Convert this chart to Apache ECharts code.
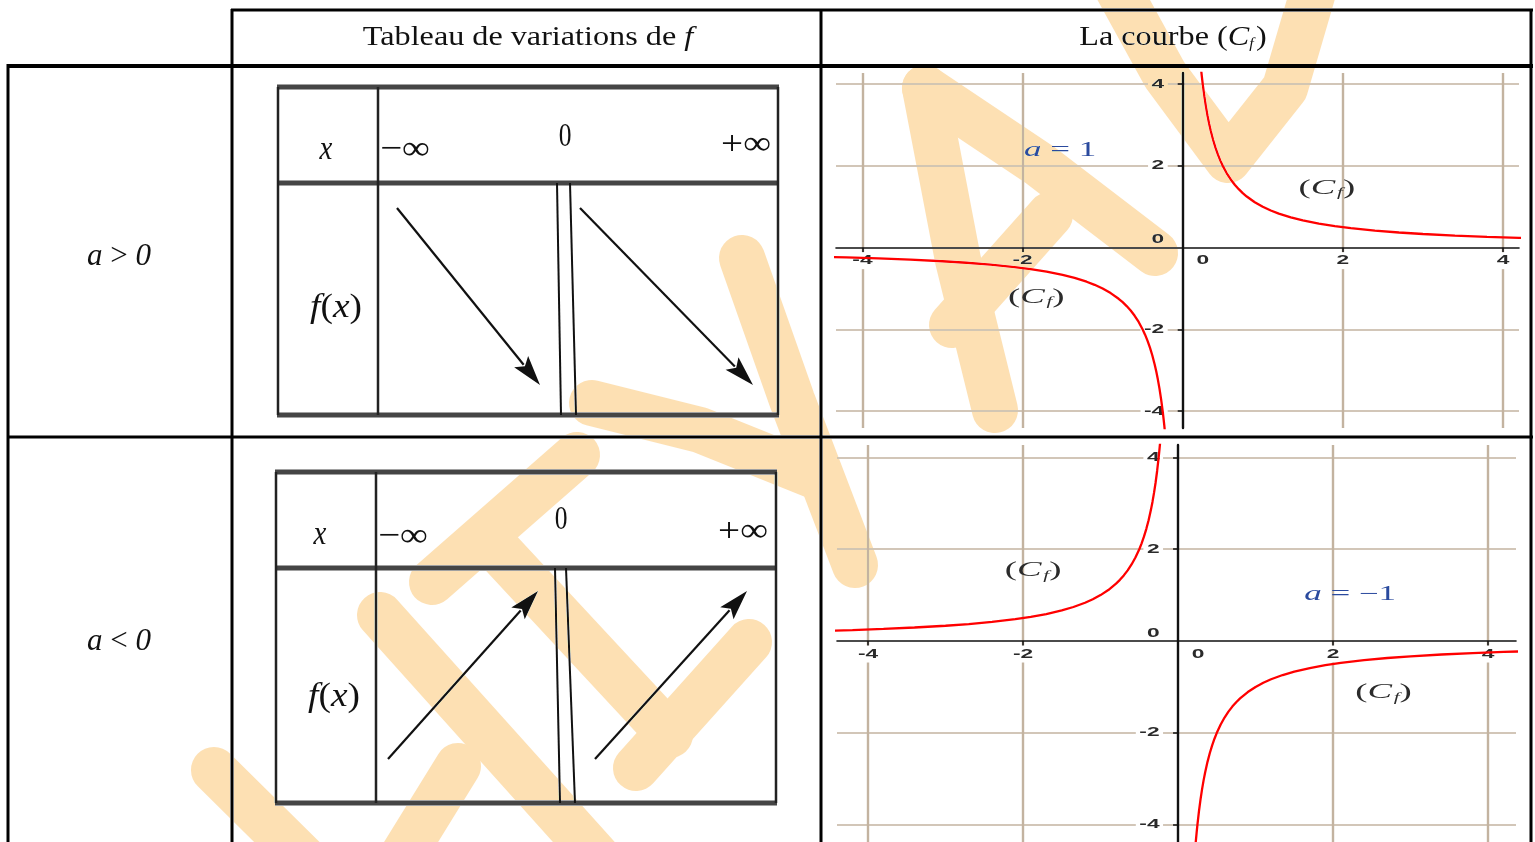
<!DOCTYPE html>
<html>
<head>
<meta charset="utf-8">
<script src="https://cdn.jsdelivr.net/npm/echarts@6/dist/echarts.min.js"></script>
<style>
  html, body { margin: 0; padding: 0; background: #fff; overflow: hidden; }
  #c { width: 1535px; height: 842px; }
</style>
</head>
<body>
<div id="c"></div>
<script>
// ---------- content ----------
const headerTitles = ['Tableau de variations de ', 'La courbe ('];
const caseSigns = ['>', '<'];                 // sign of a, one per row
const aValues = ['1', '−1'];                  // value of a used for each plot
const varXLabels = ['−∞', '0', '+∞'];          // x row of the variation tables
const variations = [['down', 'down'], ['up', 'up']];
const tickLabelValues = [-4, -2, 0, 2, 4];
const gridValues = [-4, -2, 2, 4];

// f(x) = a/x, points read along each branch
const curveA1Left = [
  [-4.5, -0.222], [-4.2, -0.238], [-3.8, -0.263], [-3.4, -0.294], [-3, -0.333], [-2.7, -0.37],
  [-2.4, -0.417], [-2.1, -0.476], [-1.9, -0.526], [-1.7, -0.588], [-1.5, -0.667], [-1.35, -0.741],
  [-1.2, -0.833], [-1.1, -0.909], [-1, -1], [-0.9, -1.111], [-0.8, -1.25], [-0.75, -1.333],
  [-0.7, -1.429], [-0.65, -1.538], [-0.6, -1.667], [-0.55, -1.818], [-0.5, -2], [-0.47, -2.128],
  [-0.44, -2.273], [-0.41, -2.439], [-0.38, -2.632], [-0.35, -2.857], [-0.33, -3.03], [-0.31, -3.226],
  [-0.29, -3.448], [-0.27, -3.704], [-0.25, -4], [-0.24, -4.167], [-0.23, -4.348], [-0.22, -4.545],
  [-0.21, -4.762], [-0.2, -5]
];
const curveA1Right = [
  [0.2, 5], [0.21, 4.762], [0.22, 4.545], [0.23, 4.348], [0.24, 4.167], [0.25, 4], [0.27, 3.704],
  [0.29, 3.448], [0.31, 3.226], [0.33, 3.03], [0.35, 2.857], [0.38, 2.632], [0.41, 2.439],
  [0.44, 2.273], [0.47, 2.128], [0.5, 2], [0.55, 1.818], [0.6, 1.667], [0.65, 1.538], [0.7, 1.429],
  [0.75, 1.333], [0.8, 1.25], [0.9, 1.111], [1, 1], [1.1, 0.909], [1.2, 0.833], [1.35, 0.741],
  [1.5, 0.667], [1.7, 0.588], [1.9, 0.526], [2.1, 0.476], [2.4, 0.417], [2.7, 0.37], [3, 0.333],
  [3.4, 0.294], [3.8, 0.263], [4.2, 0.238], [4.5, 0.222]
];
const curveAm1Left = [
  [-4.5, 0.222], [-4.2, 0.238], [-3.8, 0.263], [-3.4, 0.294], [-3, 0.333], [-2.7, 0.37],
  [-2.4, 0.417], [-2.1, 0.476], [-1.9, 0.526], [-1.7, 0.588], [-1.5, 0.667], [-1.35, 0.741],
  [-1.2, 0.833], [-1.1, 0.909], [-1, 1], [-0.9, 1.111], [-0.8, 1.25], [-0.75, 1.333],
  [-0.7, 1.429], [-0.65, 1.538], [-0.6, 1.667], [-0.55, 1.818], [-0.5, 2], [-0.47, 2.128],
  [-0.44, 2.273], [-0.41, 2.439], [-0.38, 2.632], [-0.35, 2.857], [-0.33, 3.03], [-0.31, 3.226],
  [-0.29, 3.448], [-0.27, 3.704], [-0.25, 4], [-0.24, 4.167], [-0.23, 4.348], [-0.22, 4.545],
  [-0.21, 4.762], [-0.2, 5]
];
const curveAm1Right = [
  [0.2, -5], [0.21, -4.762], [0.22, -4.545], [0.23, -4.348], [0.24, -4.167], [0.25, -4], [0.27, -3.704],
  [0.29, -3.448], [0.31, -3.226], [0.33, -3.03], [0.35, -2.857], [0.38, -2.632], [0.41, -2.439],
  [0.44, -2.273], [0.47, -2.128], [0.5, -2], [0.55, -1.818], [0.6, -1.667], [0.65, -1.538], [0.7, -1.429],
  [0.75, -1.333], [0.8, -1.25], [0.9, -1.111], [1, -1], [1.1, -0.909], [1.2, -0.833], [1.35, -0.741],
  [1.5, -0.667], [1.7, -0.588], [1.9, -0.526], [2.1, -0.476], [2.4, -0.417], [2.7, -0.37], [3, -0.333],
  [3.4, -0.294], [3.8, -0.263], [4.2, -0.238], [4.5, -0.222]
];
// annotation anchors, in plot units: [x, y, kind]
const notesA1 = [[1.8, 1.45, 'cf'], [-1.83, -1.21, 'cf'], [-1.53, 2.38, 'a']];
const notesAm1 = [[-1.87, 1.53, 'cf'], [2.22, 1.0, 'a'], [2.65, -1.13, 'cf']];

// ---------- layout ----------
const SERIF = "'Liberation Serif', 'DejaVu Serif', serif";
const SANS = "'Liberation Sans', 'DejaVu Sans', sans-serif";
const INK = '#000';
const PLOT_STRETCH = 1.75;   // plot lettering is drawn wide

const plotLayout = [
  { left: 836, top: 73, width: 683, height: 355, x: [-4.33, 4.2], y: [-4.41, 4.27] },
  { left: 837, top: 445, width: 679, height: 398, x: [-4.4, 4.36], y: [-4.4, 4.27] }
];

const tableLayout = [
  { l: 278, r: 778, t: 87, sep: 183, b: 415, div: 378,
    bars: [[557, 561], [570, 576]],
    segs: [[397, 540], [580, 753]], yHi: 208, yLo: 385,
    xPos: [326, 150], lo: [380, 150], mid: [565, 137], hi: [771, 145], fPos: [336, 308] },
  { l: 276, r: 776, t: 472, sep: 568, b: 803, div: 376,
    bars: [[555, 560], [566, 575]],
    segs: [[388, 538], [595, 747]], yHi: 591, yLo: 759,
    xPos: [320, 535], lo: [378, 537], mid: [561, 520], hi: [768, 532], fPos: [334, 697] }
];

// hand-drawn stamp strokes laid over the page
const stampStrokes = [
  [[925, 88], [958, 260], [995, 410]],
  [[925, 88], [1040, 165], [1155, 253]],
  [[952, 325], [1050, 215]],
  [[1110, -25], [1165, 75], [1228, 160], [1285, 88], [1318, -25]],
  [[742, 258], [792, 400], [855, 565]],
  [[592, 403], [700, 430], [812, 475]],
  [[577, 455], [432, 582]],
  [[500, 552], [670, 735]],
  [[749, 642], [636, 768]],
  [[380, 615], [600, 860]],
  [[458, 766], [400, 860]],
  [[214, 770], [305, 860]]
];

// ---------- graphic elements ----------
const g = [];
function seg(x1, y1, x2, y2, w, color, z) {
  g.push({ type: 'line', silent: true, z: z || 1,
    shape: { x1, y1, x2, y2 }, style: { stroke: color, lineWidth: w } });
}
function txt(x, y, text, rich, extra, align) {
  g.push(Object.assign({ type: 'text', silent: true, z: 5, x, y,
    style: { text, rich, align: align || 'center', verticalAlign: 'middle', fill: '#111',
      font: '24px ' + SERIF } }, extra || {}));
}

// outer table
seg(231, 10, 1533, 10, 3, INK);
seg(7, 66, 1533, 66, 4, INK);
seg(7, 437, 1533, 437, 3, INK);
seg(8, 64, 8, 850, 3, INK);
seg(232, 9, 232, 850, 3, INK);
seg(821, 9, 821, 850, 3, INK);
seg(1531, 9, 1531, 850, 3, INK);

// headers
const headRich = {
  n: { fontFamily: SERIF, fontSize: 28, fill: '#111' },
  i: { fontFamily: SERIF, fontSize: 28, fontStyle: 'italic', fill: '#111' },
  s: { fontFamily: SERIF, fontSize: 14, fontStyle: 'italic', fill: '#111', padding: [12, 2, 0, 0] }
};
txt(528, 38, '{n|' + headerTitles[0] + '}{i|f}', headRich, { scaleX: 1.15 });
txt(1173, 38, '{n|' + headerTitles[1] + '}{i|C}{s|f}{n|)}', headRich, { scaleX: 1.15 });

// case labels
const caseRich = {
  i: { fontFamily: SERIF, fontSize: 31, fontStyle: 'italic', fill: '#111' },
  n: { fontFamily: SERIF, fontSize: 31, fill: '#111' }
};
caseSigns.forEach((s, k) => {
  txt(119, k === 0 ? 257 : 642, '{i|a}{n| ' + s + ' }{i|0}', caseRich);
});

// variation tables
const vtRich = {
  i: { fontFamily: SERIF, fontSize: 34, fontStyle: 'italic', fill: '#111' },
  n: { fontFamily: SERIF, fontSize: 34, fill: '#111' }
};
function arrow(x1, y1, x2, y2) {
  const dx = x2 - x1, dy = y2 - y1, L = Math.hypot(dx, dy);
  const ux = dx / L, uy = dy / L, head = 30, half = 9;
  const bx = x2 - ux * head, by = y2 - uy * head;
  seg(x1, y1, bx + ux * 4, by + uy * 4, 2.2, '#111', 3);
  g.push({ type: 'polygon', silent: true, z: 3,
    shape: { points: [[x2, y2], [bx - uy * half, by + ux * half], [x2 - ux * head * 0.8, y2 - uy * head * 0.8], [bx + uy * half, by - ux * half]] },
    style: { fill: '#111' } });
}
function band(x1, x2, y) {
  seg(x1, y, x2, y, 5, '#454545', 2);
}
tableLayout.forEach((T, k) => {
  band(T.l - 1, T.r + 1, T.t);
  band(T.l - 1, T.r + 1, T.sep);
  band(T.l - 1, T.r + 1, T.b);
  seg(T.l, T.t, T.l, T.b, 2.5, '#222', 2);
  seg(T.div, T.t, T.div, T.b, 2.5, '#222', 2);
  seg(T.r, T.t, T.r, T.b, 2.5, '#222', 2);
  // double bar at the forbidden value
  seg(T.bars[0][0], T.sep, T.bars[0][1], T.b, 2, '#111', 2);
  seg(T.bars[1][0], T.sep, T.bars[1][1], T.b, 2, '#111', 2);
  // monotonicity arrows
  variations[k].forEach((d, j) => {
    const [xa, xb] = T.segs[j];
    if (d === 'down') arrow(xa, T.yHi, xb, T.yLo);
    else arrow(xa, T.yLo, xb, T.yHi);
  });
  txt(T.xPos[0], T.xPos[1], '{i|x}', vtRich, { scaleX: 0.85 });
  txt(T.lo[0], T.lo[1], '{n|' + varXLabels[0] + '}', vtRich, { scaleX: 1.15 }, 'left');
  txt(T.mid[0], T.mid[1], '{n|' + varXLabels[1] + '}', vtRich, { scaleX: 0.75 });
  txt(T.hi[0], T.hi[1], '{n|' + varXLabels[2] + '}', vtRich, { scaleX: 1.15 }, 'right');
  txt(T.fPos[0], T.fPos[1], '{i|f}{n|(}{i|x}{n|)}', vtRich, { scaleX: 1.1 });
});

// stamp
stampStrokes.forEach(pts => {
  g.push({ type: 'polyline', silent: true, z: 100,
    shape: { points: pts },
    style: { stroke: '#fde0b3', lineWidth: 46, lineCap: 'round', lineJoin: 'round', fill: null, blend: 'darken' } });
});

// ---------- plots ----------
function makeAxis(p, idx, isX) {
  const r = isX ? p.x : p.y;
  return {
    type: 'value', gridIndex: idx, min: r[0], max: r[1],
    axisLine: { show: true, onZero: true, lineStyle: { color: '#111', width: isX ? 1.6 : 2.4 } },
    axisTick: { show: true, customValues: gridValues, length: 5, lineStyle: { color: '#111', width: 1.5 } },
    splitLine: { show: true, customValues: gridValues, lineStyle: { color: '#c3b3a0', width: isX ? 2.4 : 1.6 } },
    axisLabel: { show: false }
  };
}
function curve(data, idx) {
  return { type: 'line', xAxisIndex: idx, yAxisIndex: idx, data, showSymbol: false,
    smooth: false, clip: true, silent: true, z: 3,
    lineStyle: { color: '#ff0000', width: 2.3 } };
}

const option = {
  animation: false,
  backgroundColor: '#fff',
  grid: plotLayout.map(p => ({ left: p.left, top: p.top, width: p.width, height: p.height,
    containLabel: false, outerBoundsMode: 'none', show: false })),
  xAxis: plotLayout.map((p, i) => makeAxis(p, i, true)),
  yAxis: plotLayout.map((p, i) => makeAxis(p, i, false)),
  series: [
    curve(curveA1Left, 0), curve(curveA1Right, 0),
    curve(curveAm1Left, 1), curve(curveAm1Right, 1)
  ],
  graphic: { elements: g }
};

const chart = echarts.init(document.getElementById('c'), null, { renderer: 'canvas', width: 1535, height: 842 });
chart.setOption(option);

// ---------- lettering placed through each plot's own scales ----------
const NOTE_INK = '#2b2b2b', A_INK = '#2a4a9e';
const noteRich = {
  p: { fontFamily: SERIF, fontSize: 21, fill: NOTE_INK },
  c: { fontFamily: SERIF, fontSize: 21, fontStyle: 'italic', fill: NOTE_INK },
  s: { fontFamily: SERIF, fontSize: 12, fontStyle: 'italic', fill: NOTE_INK, padding: [10, 0, 0, 1] },
  ai: { fontFamily: SERIF, fontSize: 20, fontStyle: 'italic', fill: A_INK },
  an: { fontFamily: SERIF, fontSize: 20, fill: A_INK }
};
const plotText = [];
const toPx = (idx, pt) => chart.convertToPixel({ gridIndex: idx }, pt);
[notesA1, notesAm1].forEach((list, idx) => {
  list.forEach(n => {
    const [px, py] = toPx(idx, [n[0], n[1]]);
    plotText.push({ type: 'text', silent: true, z: 6, x: px, y: py, scaleX: PLOT_STRETCH,
      style: { text: n[2] === 'cf' ? '{p|(}{c|C}{s|f}{p|)}' : '{ai|a}{an| = ' + aValues[idx] + '}',
        rich: noteRich, align: 'center', verticalAlign: 'middle' } });
  });
  const tickStyle = { font: 'bold 13px ' + SANS, fill: '#2a2a2a', backgroundColor: '#fff', padding: [2, 2, 2, 2] };
  tickLabelValues.forEach(v => {
    const s = String(v);
    const [xv, yx0] = toPx(idx, [v, 0]);
    const [x0y, yv] = toPx(idx, [0, v]);
    if (v === 0) {
      plotText.push({ type: 'text', silent: true, z: 2, x: xv + 20, y: yx0 + 13, scaleX: PLOT_STRETCH,
        style: Object.assign({}, tickStyle, { text: s, align: 'center', verticalAlign: 'middle', backgroundColor: null }) });
      plotText.push({ type: 'text', silent: true, z: 2, x: x0y - 15, y: yv - 8, scaleX: PLOT_STRETCH,
        style: Object.assign({}, tickStyle, { text: s, align: 'right', verticalAlign: 'middle', backgroundColor: null }) });
    } else {
      plotText.push({ type: 'text', silent: true, z: 2, x: xv, y: yx0 + 13, scaleX: PLOT_STRETCH,
        style: Object.assign({}, tickStyle, { text: s, align: 'center', verticalAlign: 'middle' }) });
      plotText.push({ type: 'text', silent: true, z: 2, x: x0y - 15, y: yv, scaleX: PLOT_STRETCH,
        style: Object.assign({}, tickStyle, { text: s, align: 'right', verticalAlign: 'middle' }) });
    }
  });
});
chart.setOption({ graphic: { elements: g.concat(plotText) } });
</script>
</body>
</html>
